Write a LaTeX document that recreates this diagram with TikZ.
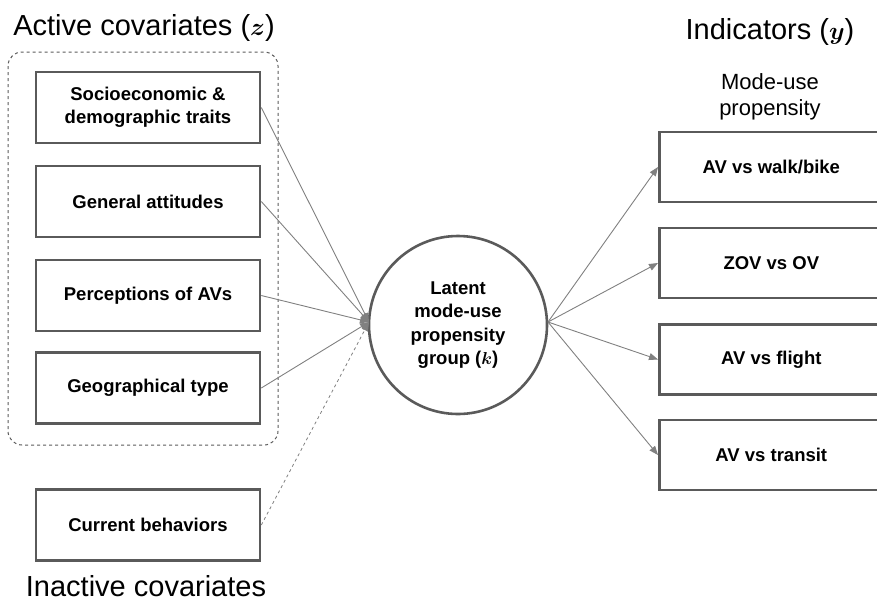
\documentclass[tikz,border=0pt]{standalone}
\usepackage{fontspec}
\setmainfont{Liberation Sans}
\usepackage{bm}
\usetikzlibrary{arrows.meta}
\definecolor{boxgray}{HTML}{5A5A5A}
\definecolor{linegray}{HTML}{808080}
\begin{document}
\begin{tikzpicture}[x=1pt,y=-1pt,
  covbox/.style={draw=boxgray,line width=2.6pt,fill=white,minimum width=224pt,minimum height=71pt,inner sep=0pt,align=center,font=\fontsize{18.5}{23}\selectfont\bfseries},
  indbox/.style={draw=boxgray,line width=2.6pt,fill=white,minimum width=224pt,minimum height=70pt,inner sep=0pt,anchor=west,font=\fontsize{18.5}{23}\selectfont\bfseries},
  title/.style={font=\fontsize{29}{34}\selectfont},
  link/.style={draw=linegray,line width=0.9pt},
  arr/.style={link,-{Triangle[length=9pt,width=7pt]},shorten >=0pt}
]
\useasboundingbox (0,0) rectangle (877,606);
\clip (0,0) rectangle (877,606);
% titles
\node[title] (t1) at (144,28) {Active covariates ($\bm{z}$)};
\node[title] (t2) at (770,32) {Indicators ($\bm{y}$)};
\node[title] (t3) at (146,586) {Inactive covariates};
\node[font=\fontsize{22}{26}\selectfont,align=center] (t4) at (770,97) {Mode-use\\propensity};
% dashed group
\draw[boxgray,dashed,line width=1pt,rounded corners=14pt] (8,52) rectangle (278,445);
% covariate boxes
\node[covbox] (b1) at (148,107.5) {Socioeconomic \&\\demographic traits};
\node[covbox] (b2) at (148,201.5) {General attitudes};
\node[covbox] (b3) at (148,295.5) {Perceptions of AVs};
\node[covbox] (b4) at (148,388) {Geographical type};
\node[covbox] (b5) at (148,525) {Current behaviors};
% circle
\node[draw=boxgray,line width=2.6pt,circle,minimum size=178pt,inner sep=0pt,align=center,font=\fontsize{18.5}{23.5}\selectfont\bfseries] (c) at (458,325) {Latent\\mode-use\\propensity\\group ($\bm{k}$)};
\coordinate (cin) at (369,322);
\coordinate (cout) at (548,322);
% indicator boxes
\node[indbox] (r1) at (658,167) {AV vs walk/bike};
\node[indbox] (r2) at (658,263) {ZOV vs OV};
\node[indbox] (r3) at (658,359.5) {AV vs flight};
\node[indbox] (r4) at (658,455) {AV vs transit};
% connectors
\draw[arr] (b1.east) -- (cin);
\draw[arr] (b2.east) -- (cin);
\draw[arr] (b3.east) -- (cin);
\draw[arr] (b4.east) -- (cin);
\draw[arr,dashed,line width=0.8pt] (b5.east) -- (cin);
\draw[arr] (cout) -- (r1.west);
\draw[arr] (cout) -- (r2.west);
\draw[arr] (cout) -- (r3.west);
\draw[arr] (cout) -- (r4.west);
\end{tikzpicture}
\end{document}
